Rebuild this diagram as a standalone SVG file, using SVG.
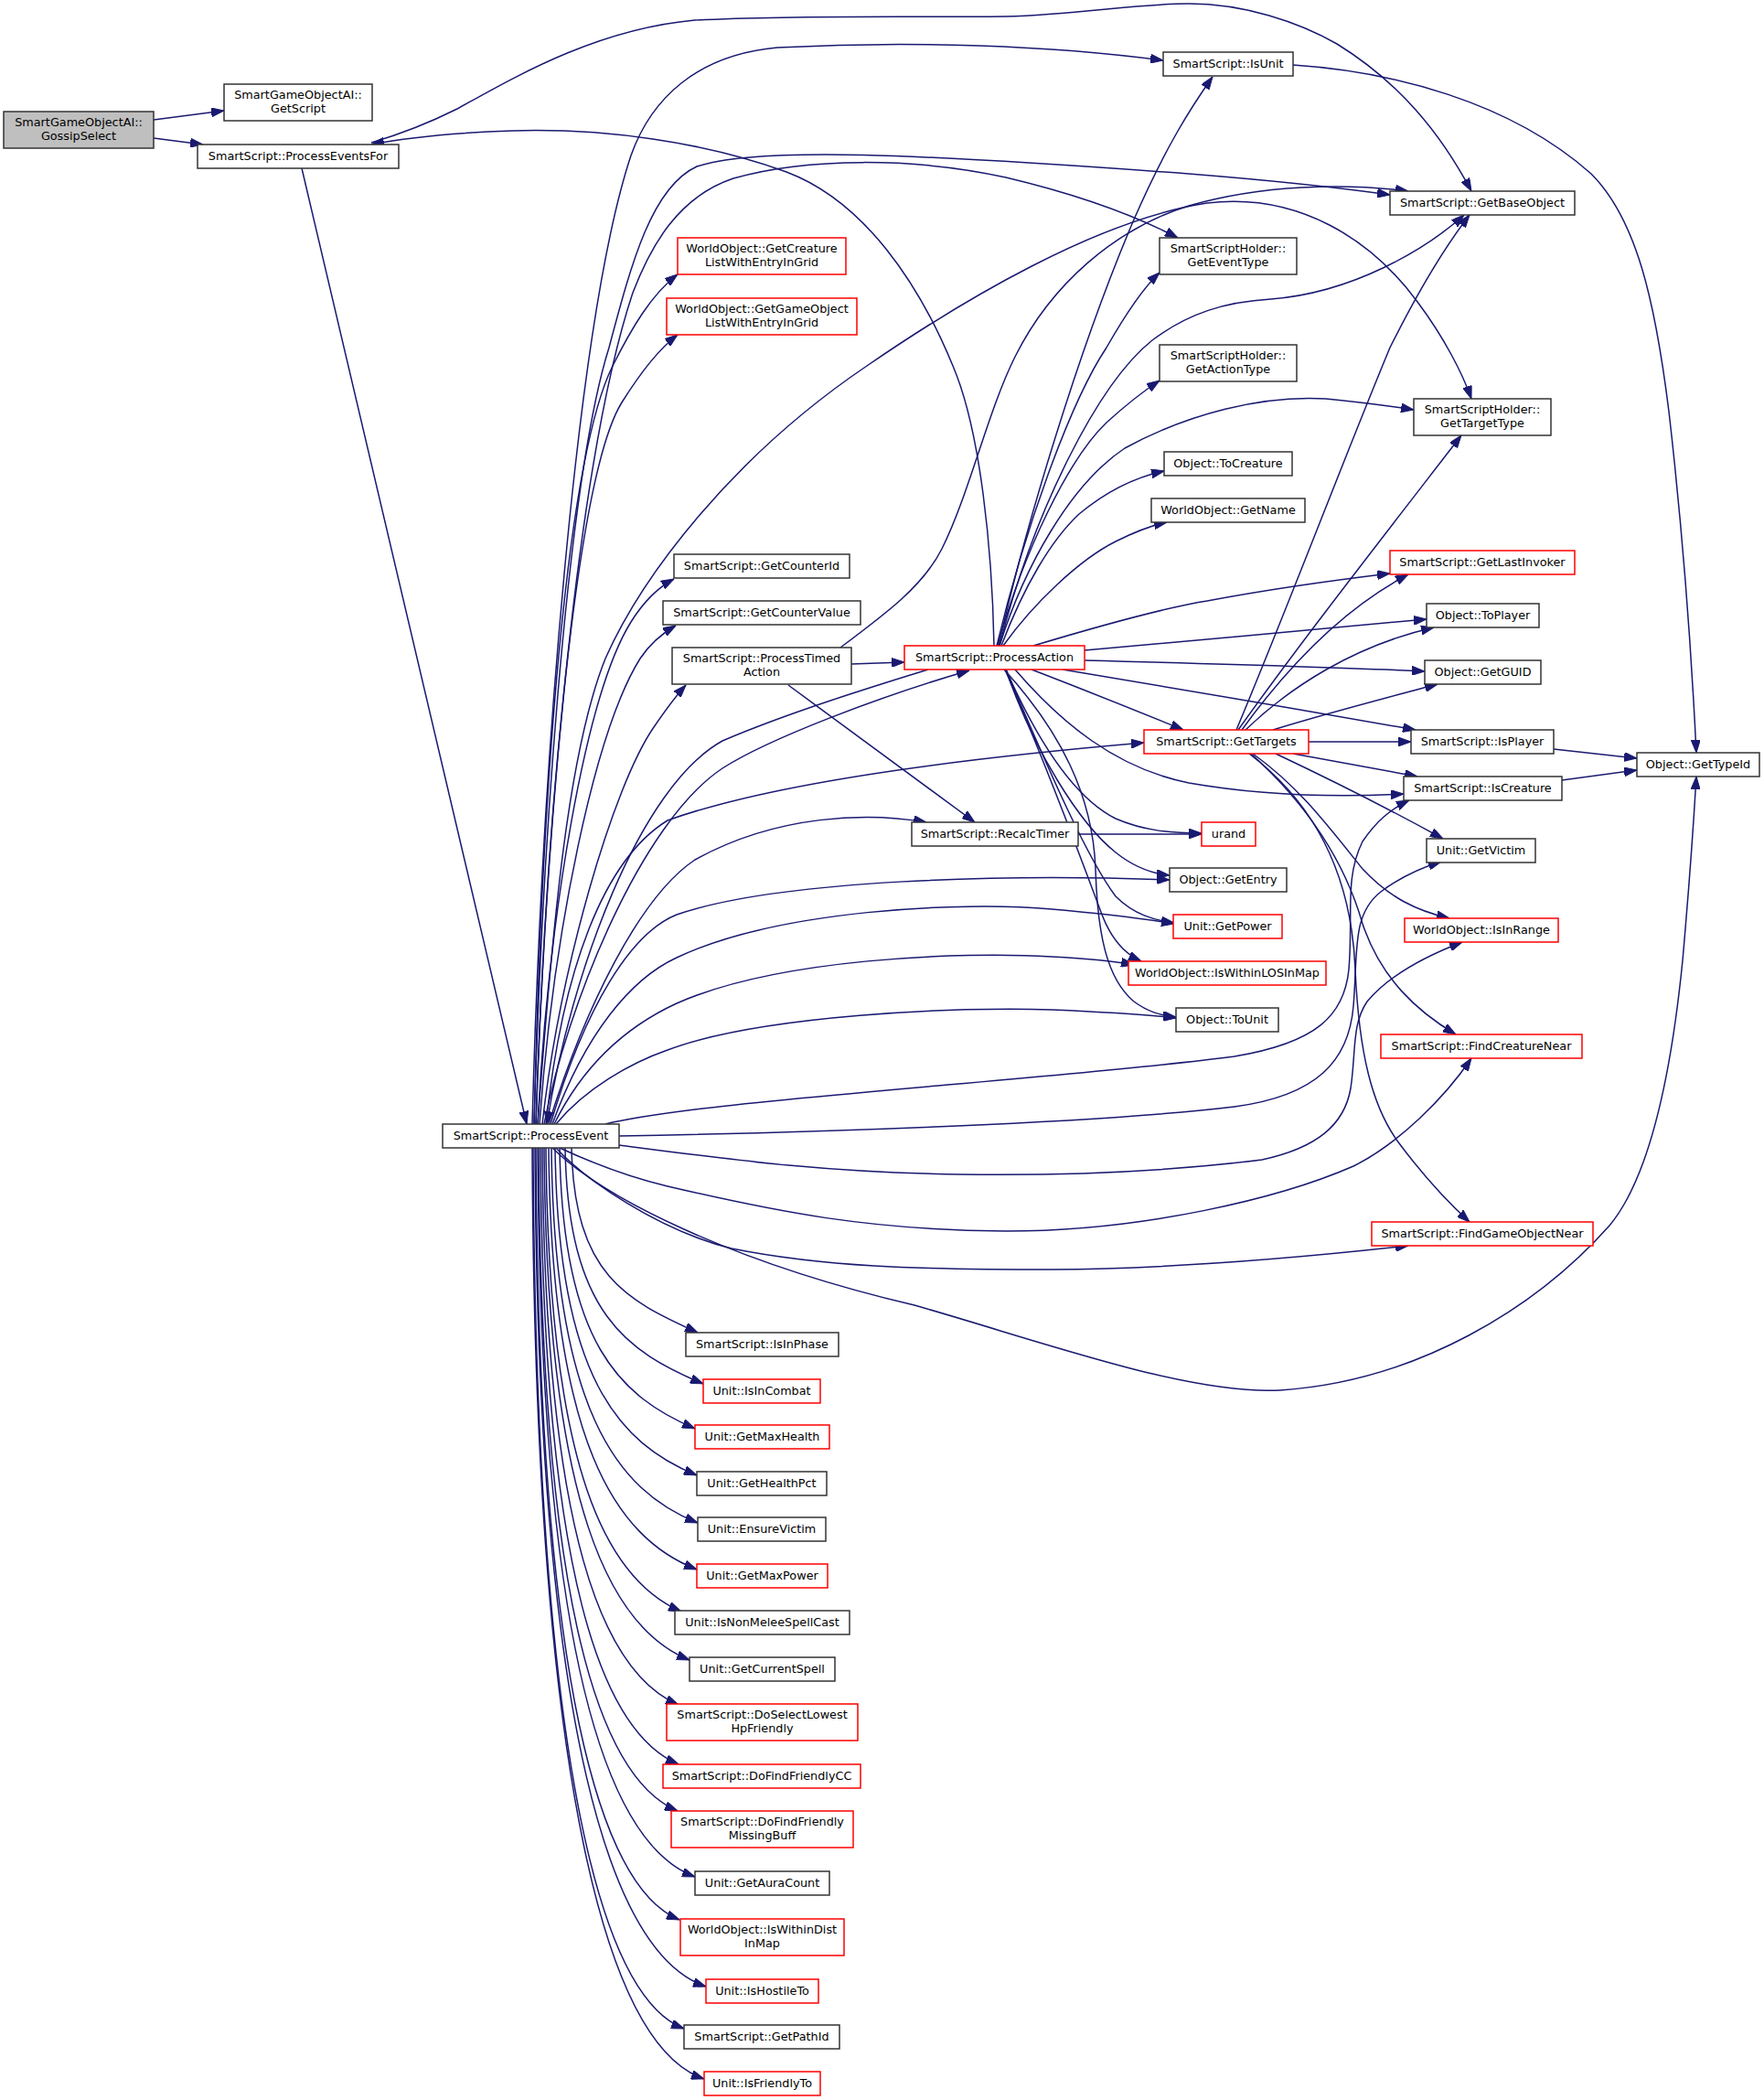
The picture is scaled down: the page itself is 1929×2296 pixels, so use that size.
<svg xmlns="http://www.w3.org/2000/svg" width="1929" height="2296" viewBox="0 0 1929 2296">
<defs>
<marker id="a" markerWidth="14" markerHeight="10" refX="14" refY="5" orient="auto" markerUnits="userSpaceOnUse"><path d="M0,0 L14,5 L0,10 z" fill="#191970" stroke="#191970" stroke-width="1"/></marker>
<style>
.e{fill:none;stroke:#191970;stroke-width:1.5;marker-end:url(#a)}
.n rect{fill:#fff;stroke:#333;stroke-width:1.5}
.r rect{fill:#fff;stroke:#ff0000;stroke-width:1.5}
.m rect{fill:#bfbfbf;stroke:#333;stroke-width:1.5}
text{font-family:"DejaVu Sans","Liberation Sans",sans-serif;font-size:12.8px;fill:#000;text-anchor:middle}
</style>
</defs>
<rect width="1929" height="2296" fill="#fff"/>
<g id="edges">
<path class="e" d="M168,131 L245,121"/>
<path class="e" d="M168,151 L222,158"/>
<path class="e" d="M330,184 L576,1229"/>
<path class="e" d="M406,156 C440,146 470,134 500,119 C560,86 650,32 760,22 C880,16 1000,19 1100,18 C1180,16 1240,4 1300,4 C1360,4 1420,24 1462,48 C1530,90 1575,145 1609,209"/>
<path class="e" d="M1087,706 C1085,600 1072,470 1042,400 C1005,310 945,220 860,188 C770,155 660,140 560,143 C500,145 452,149 406,158"/>
<path class="e" d="M582,1229 C592,850 630,350 690,170 C712,108 762,60 850,52 C1000,44 1150,50 1272,66"/>
<path class="e" d="M584,1229 C594,900 622,520 666,380 C690,290 712,205 762,182 C830,160 1000,168 1300,190 C1400,198 1470,206 1520,213"/>
<path class="e" d="M586,1229 C597,900 632,500 692,320 C712,268 742,215 802,195 C882,172 1000,172 1100,194 C1180,213 1240,235 1288,260"/>
<path class="e" d="M588,1229 C605,1000 622,820 662,720 C702,630 800,500 948,400 C1050,330 1200,240 1320,222 C1420,210 1500,262 1550,330 C1580,370 1600,410 1609,436"/>
<path class="e" d="M584,1229 C593,850 620,500 670,400 C690,360 712,322 741,300"/>
<path class="e" d="M586,1229 C597,900 630,520 680,440 C700,408 720,382 741,366"/>
<path class="e" d="M588,1229 C600,1000 640,760 690,680 C705,656 720,642 737,633"/>
<path class="e" d="M590,1229 C605,1020 650,800 700,720 C712,702 725,692 739,684"/>
<path class="e" d="M593,1229 C612,1060 670,860 715,795 C728,776 738,762 750,749"/>
<path class="e" d="M595,1229 C620,1100 700,900 790,840 C840,808 960,762 1060,733"/>
<path class="e" d="M1015,732 C950,752 860,780 790,810 C700,860 625,1060 598,1229"/>
<path class="e" d="M597,1229 C615,1060 660,940 730,897 C860,850 1100,825 1251,812"/>
<path class="e" d="M600,1229 C640,1100 700,980 760,940 C850,890 950,888 1013,899"/>
<path class="e" d="M602,1229 C640,1100 690,1020 740,1000 C850,962 1100,955 1279,962"/>
<path class="e" d="M604,1229 C640,1130 690,1070 740,1047 C850,995 1050,985 1150,994 C1220,1000 1260,1006 1284,1010"/>
<path class="e" d="M606,1229 C640,1160 690,1120 740,1097 C850,1048 1050,1040 1150,1046 C1190,1048 1220,1051 1240,1055"/>
<path class="e" d="M608,1229 C640,1190 690,1162 730,1148 C830,1110 1050,1100 1150,1104 C1220,1107 1260,1110 1286,1113"/>
<path class="e" d="M662,1229 C690,1222 720,1218 760,1213 C900,1195 1200,1175 1350,1155 C1440,1140 1470,1110 1475,1060 C1480,1000 1470,960 1490,920 C1505,898 1520,885 1541,875"/>
<path class="e" d="M677,1242 C900,1238 1200,1228 1350,1210 C1440,1198 1475,1160 1480,1100 C1485,1040 1478,1000 1510,975 C1530,960 1550,950 1576,942"/>
<path class="e" d="M677,1252 C800,1268 900,1282 1050,1284 C1200,1286 1300,1278 1380,1268 C1440,1255 1470,1230 1477,1190 C1483,1150 1478,1120 1495,1095 C1520,1065 1560,1045 1599,1030"/>
<path class="e" d="M612,1255 C640,1268 680,1285 730,1297 C850,1325 950,1345 1100,1346 C1250,1346 1400,1310 1480,1275 C1530,1250 1580,1200 1609,1157"/>
<path class="e" d="M608,1255 C640,1290 720,1345 800,1365 C900,1385 1000,1388 1150,1388 C1300,1387 1450,1372 1540,1362"/>
<path class="e" d="M604,1255 C660,1310 800,1380 1000,1427 C1150,1470 1300,1525 1400,1520 C1550,1510 1680,1430 1760,1340 C1810,1280 1830,1150 1840,1050 C1848,960 1852,900 1855,849"/>
<path class="e" d="M625,1255 C628,1396 687,1422 763,1457"/>
<path class="e" d="M618,1255 C621,1436 686,1478 769,1513"/>
<path class="e" d="M612,1255 C615,1470 679,1527 760,1562"/>
<path class="e" d="M607,1255 C610,1506 677,1578 762,1613"/>
<path class="e" d="M603,1255 C606,1542 675,1630 763,1665"/>
<path class="e" d="M600,1255 C603,1578 673,1681 762,1716"/>
<path class="e" d="M597,1255 C600,1610 664,1727 745,1762"/>
<path class="e" d="M595,1255 C598,1647 667,1780 754,1815"/>
<path class="e" d="M593,1255 C596,1681 660,1829 742,1864"/>
<path class="e" d="M591,1255 C594,1727 659,1894 742,1929"/>
<path class="e" d="M589,1255 C592,1763 657,1945 741,1980"/>
<path class="e" d="M588,1255 C591,1813 665,2017 760,2052"/>
<path class="e" d="M586,1255 C589,1846 657,2064 743,2099"/>
<path class="e" d="M585,1255 C588,1897 669,2137 772,2172"/>
<path class="e" d="M583,1255 C586,1929 657,2183 748,2218"/>
<path class="e" d="M582,1255 C585,1968 667,2238 770,2273"/>
<path class="e" d="M1092,706 C1120,580 1180,380 1240,240 C1275,160 1302,118 1326,84"/>
<path class="e" d="M1093,706 C1130,560 1200,420 1260,372 C1300,342 1340,330 1390,327 C1480,320 1560,272 1601,235"/>
<path class="e" d="M1090,706 C1120,580 1170,440 1210,380 C1230,345 1250,315 1268,298"/>
<path class="e" d="M1091,706 C1120,600 1170,500 1210,462 C1232,442 1250,428 1268,416"/>
<path class="e" d="M1093,706 C1120,620 1170,530 1230,490 C1300,452 1380,432 1450,436 C1490,440 1520,444 1546,448"/>
<path class="e" d="M1095,706 C1120,640 1150,590 1180,562 C1210,537 1240,522 1273,515"/>
<path class="e" d="M1097,706 C1130,660 1180,612 1220,592 C1240,582 1256,575 1276,571"/>
<path class="e" d="M1130,706 C1200,685 1270,665 1320,657 C1400,642 1470,633 1520,627"/>
<path class="e" d="M1186,711 C1300,700 1450,688 1560,677"/>
<path class="e" d="M1186,722 C1300,725 1450,729 1558,734"/>
<path class="e" d="M1162,732 C1280,752 1420,775 1548,798"/>
<path class="e" d="M1128,732 C1180,752 1240,776 1294,798"/>
<path class="e" d="M1110,732 C1160,790 1220,840 1300,856 C1380,870 1460,872 1535,868"/>
<path class="e" d="M1100,732 C1130,800 1170,870 1220,895 C1250,908 1280,911 1314,911"/>
<path class="e" d="M1100,732 C1130,820 1180,900 1220,932 C1240,948 1258,955 1279,957"/>
<path class="e" d="M1100,732 C1150,850 1190,940 1220,980 C1240,1000 1262,1006 1284,1009"/>
<path class="e" d="M1099,732 C1150,850 1190,960 1205,1000 C1215,1026 1230,1043 1248,1051"/>
<path class="e" d="M1098,732 C1160,800 1195,870 1198,950 C1200,1020 1210,1070 1240,1095 C1255,1106 1268,1110 1286,1112"/>
<path class="e" d="M1352,798 C1410,660 1470,500 1520,380 C1550,320 1580,270 1607,235"/>
<path class="e" d="M1354,798 C1420,705 1510,590 1598,476"/>
<path class="e" d="M1358,798 C1400,740 1460,670 1540,628"/>
<path class="e" d="M1362,798 C1410,752 1480,706 1568,686"/>
<path class="e" d="M1392,798 C1450,780 1520,762 1572,748"/>
<path class="e" d="M1431,811 L1543,811"/>
<path class="e" d="M1414,824 L1550,849"/>
<path class="e" d="M1395,824 C1450,850 1520,885 1578,917"/>
<path class="e" d="M1370,824 C1420,860 1450,900 1490,950 C1520,982 1550,996 1585,1004"/>
<path class="e" d="M1368,824 C1430,880 1470,940 1490,1010 C1510,1070 1550,1106 1592,1131"/>
<path class="e" d="M1366,824 C1440,880 1478,960 1482,1060 C1486,1150 1500,1210 1530,1250 C1560,1290 1585,1316 1607,1336"/>
<path class="e" d="M1699,819 L1790,829"/>
<path class="e" d="M1708,853 L1790,842"/>
<path class="e" d="M1414,71 C1520,78 1650,110 1740,190 C1790,240 1810,330 1825,450 C1840,580 1850,720 1855,823"/>
<path class="e" d="M1179,912 L1314,912"/>
<path class="e" d="M931,726 L989,724"/>
<path class="e" d="M862,749 L1066,899"/>
<path class="e" d="M919,708 C970,670 1010,640 1030,600 C1060,540 1080,450 1110,390 C1150,310 1220,250 1300,225 C1380,202 1470,200 1540,209"/>
</g>
<g id="GossipSelect" class="m"><rect x="4" y="122" width="164" height="40"/><text x="86" y="138">SmartGameObjectAI::</text><text x="86" y="153">GossipSelect</text></g>
<g id="GetScript" class="n"><rect x="245" y="92" width="162" height="40"/><text x="326" y="108">SmartGameObjectAI::</text><text x="326" y="123">GetScript</text></g>
<g id="ProcessEventsFor" class="n"><rect x="216" y="158" width="220" height="26"/><text x="326" y="175">SmartScript::ProcessEventsFor</text></g>
<g id="ProcessEvent" class="n"><rect x="484" y="1229" width="193" height="26"/><text x="580.5" y="1246">SmartScript::ProcessEvent</text></g>
<g id="GetCreatureListWithEntryInGrid" class="r"><rect x="741" y="260" width="184" height="40"/><text x="833" y="276">WorldObject::GetCreature</text><text x="833" y="291">ListWithEntryInGrid</text></g>
<g id="GetGameObjectListWithEntryInGrid" class="r"><rect x="729" y="326" width="208" height="40"/><text x="833" y="342">WorldObject::GetGameObject</text><text x="833" y="357">ListWithEntryInGrid</text></g>
<g id="GetCounterId" class="n"><rect x="737" y="606" width="192" height="26"/><text x="833" y="623">SmartScript::GetCounterId</text></g>
<g id="GetCounterValue" class="n"><rect x="725" y="657" width="216" height="26"/><text x="833" y="674">SmartScript::GetCounterValue</text></g>
<g id="ProcessTimedAction" class="n"><rect x="735" y="708" width="196" height="40"/><text x="833" y="724">SmartScript::ProcessTimed</text><text x="833" y="739">Action</text></g>
<g id="IsInPhase" class="n"><rect x="750" y="1457" width="167" height="26"/><text x="833.5" y="1474">SmartScript::IsInPhase</text></g>
<g id="IsInCombat" class="r"><rect x="769" y="1508" width="128" height="26"/><text x="833" y="1525">Unit::IsInCombat</text></g>
<g id="GetMaxHealth" class="r"><rect x="760" y="1558" width="147" height="26"/><text x="833.5" y="1575">Unit::GetMaxHealth</text></g>
<g id="GetHealthPct" class="n"><rect x="762" y="1609" width="142" height="26"/><text x="833" y="1626">Unit::GetHealthPct</text></g>
<g id="EnsureVictim" class="n"><rect x="763" y="1659" width="140" height="26"/><text x="833" y="1676">Unit::EnsureVictim</text></g>
<g id="GetMaxPower" class="r"><rect x="762" y="1710" width="143" height="26"/><text x="833.5" y="1727">Unit::GetMaxPower</text></g>
<g id="IsNonMeleeSpellCast" class="n"><rect x="738" y="1761" width="191" height="26"/><text x="833.5" y="1778">Unit::IsNonMeleeSpellCast</text></g>
<g id="GetCurrentSpell" class="n"><rect x="754" y="1812" width="159" height="26"/><text x="833.5" y="1829">Unit::GetCurrentSpell</text></g>
<g id="DoSelectLowestHpFriendly" class="r"><rect x="729" y="1863" width="209" height="40"/><text x="833.5" y="1879">SmartScript::DoSelectLowest</text><text x="833.5" y="1894">HpFriendly</text></g>
<g id="DoFindFriendlyCC" class="r"><rect x="725" y="1929" width="216" height="26"/><text x="833" y="1946">SmartScript::DoFindFriendlyCC</text></g>
<g id="DoFindFriendlyMissingBuff" class="r"><rect x="734" y="1980" width="199" height="40"/><text x="833.5" y="1996">SmartScript::DoFindFriendly</text><text x="833.5" y="2011">MissingBuff</text></g>
<g id="GetAuraCount" class="n"><rect x="760" y="2046" width="147" height="26"/><text x="833.5" y="2063">Unit::GetAuraCount</text></g>
<g id="IsWithinDistInMap" class="r"><rect x="744" y="2098" width="179" height="40"/><text x="833.5" y="2114">WorldObject::IsWithinDist</text><text x="833.5" y="2129">InMap</text></g>
<g id="IsHostileTo" class="r"><rect x="772" y="2164" width="123" height="26"/><text x="833.5" y="2181">Unit::IsHostileTo</text></g>
<g id="GetPathId" class="n"><rect x="748" y="2214" width="170" height="26"/><text x="833" y="2231">SmartScript::GetPathId</text></g>
<g id="IsFriendlyTo" class="r"><rect x="770" y="2265" width="127" height="26"/><text x="833.5" y="2282">Unit::IsFriendlyTo</text></g>
<g id="ProcessAction" class="r"><rect x="989" y="706" width="197" height="26"/><text x="1087.5" y="723">SmartScript::ProcessAction</text></g>
<g id="RecalcTimer" class="n"><rect x="997" y="899" width="182" height="26"/><text x="1088" y="916">SmartScript::RecalcTimer</text></g>
<g id="IsUnit" class="n"><rect x="1272" y="57" width="142" height="26"/><text x="1343" y="74">SmartScript::IsUnit</text></g>
<g id="GetEventType" class="n"><rect x="1268" y="260" width="150" height="40"/><text x="1343" y="276">SmartScriptHolder::</text><text x="1343" y="291">GetEventType</text></g>
<g id="GetActionType" class="n"><rect x="1268" y="377" width="150" height="40"/><text x="1343" y="393">SmartScriptHolder::</text><text x="1343" y="408">GetActionType</text></g>
<g id="ToCreature" class="n"><rect x="1273" y="494" width="140" height="26"/><text x="1343" y="511">Object::ToCreature</text></g>
<g id="GetName" class="n"><rect x="1259" y="545" width="168" height="26"/><text x="1343" y="562">WorldObject::GetName</text></g>
<g id="GetTargets" class="r"><rect x="1251" y="798" width="180" height="26"/><text x="1341" y="815">SmartScript::GetTargets</text></g>
<g id="urand" class="r"><rect x="1314" y="899" width="59" height="26"/><text x="1343.5" y="916">urand</text></g>
<g id="GetEntry" class="n"><rect x="1279" y="949" width="128" height="26"/><text x="1343" y="966">Object::GetEntry</text></g>
<g id="GetPower" class="r"><rect x="1283" y="1000" width="119" height="26"/><text x="1342.5" y="1017">Unit::GetPower</text></g>
<g id="IsWithinLOSInMap" class="r"><rect x="1234" y="1051" width="216" height="26"/><text x="1342" y="1068">WorldObject::IsWithinLOSInMap</text></g>
<g id="ToUnit" class="n"><rect x="1286" y="1102" width="112" height="26"/><text x="1342" y="1119">Object::ToUnit</text></g>
<g id="GetBaseObject" class="n"><rect x="1520" y="209" width="202" height="26"/><text x="1621" y="226">SmartScript::GetBaseObject</text></g>
<g id="GetTargetType" class="n"><rect x="1546" y="436" width="150" height="40"/><text x="1621" y="452">SmartScriptHolder::</text><text x="1621" y="467">GetTargetType</text></g>
<g id="GetLastInvoker" class="r"><rect x="1520" y="602" width="202" height="26"/><text x="1621" y="619">SmartScript::GetLastInvoker</text></g>
<g id="ToPlayer" class="n"><rect x="1560" y="660" width="123" height="26"/><text x="1621.5" y="677">Object::ToPlayer</text></g>
<g id="GetGUID" class="n"><rect x="1558" y="722" width="127" height="26"/><text x="1621.5" y="739">Object::GetGUID</text></g>
<g id="IsPlayer" class="n"><rect x="1543" y="798" width="156" height="26"/><text x="1621" y="815">SmartScript::IsPlayer</text></g>
<g id="IsCreature" class="n"><rect x="1535" y="849" width="173" height="26"/><text x="1621.5" y="866">SmartScript::IsCreature</text></g>
<g id="GetVictim" class="n"><rect x="1560" y="917" width="119" height="26"/><text x="1619.5" y="934">Unit::GetVictim</text></g>
<g id="IsInRange" class="r"><rect x="1536" y="1004" width="168" height="26"/><text x="1620" y="1021">WorldObject::IsInRange</text></g>
<g id="FindCreatureNear" class="r"><rect x="1510" y="1131" width="220" height="26"/><text x="1620" y="1148">SmartScript::FindCreatureNear</text></g>
<g id="FindGameObjectNear" class="r"><rect x="1500" y="1336" width="242" height="26"/><text x="1621" y="1353">SmartScript::FindGameObjectNear</text></g>
<g id="GetTypeId" class="n"><rect x="1790" y="823" width="134" height="26"/><text x="1857" y="840">Object::GetTypeId</text></g>
</svg>
